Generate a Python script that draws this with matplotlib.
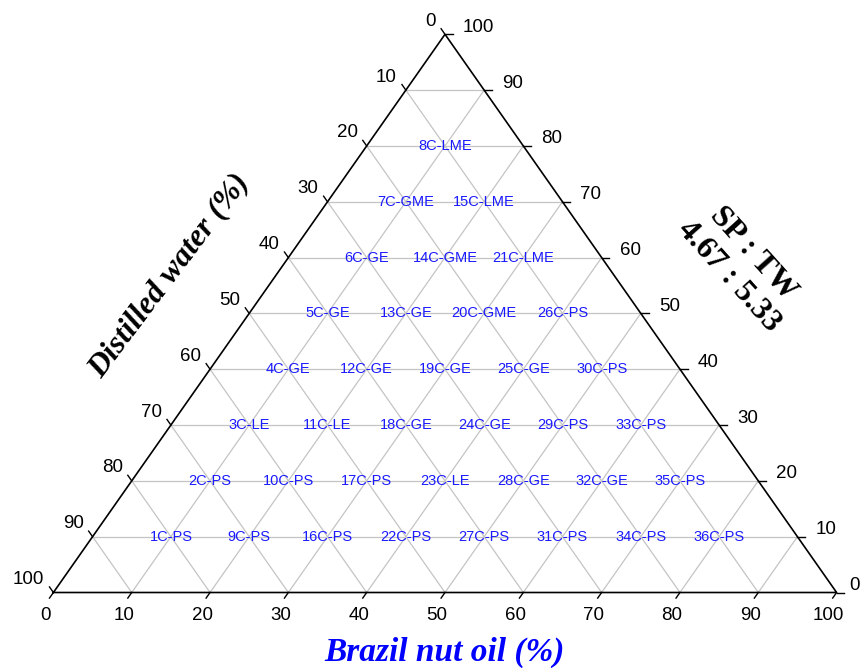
import matplotlib.pyplot as plt

W, H, DPI = 861, 668, 100

# ── data: emulsion formulations (Brazil nut oil %, SP:TW mixture %) ──
labels = ["1C-PS", "2C-PS", "3C-LE", "4C-GE", "5C-GE", "6C-GE", "7C-GME", "8C-LME",
          "9C-PS", "10C-PS", "11C-LE", "12C-GE", "13C-GE", "14C-GME", "15C-LME",
          "16C-PS", "17C-PS", "18C-GE", "19C-GE", "20C-GME", "21C-LME",
          "22C-PS", "23C-LE", "24C-GE", "25C-GE", "26C-PS",
          "27C-PS", "28C-GE", "29C-PS", "30C-PS",
          "31C-PS", "32C-GE", "33C-PS",
          "34C-PS", "35C-PS",
          "36C-PS"]
oil = [10, 10, 10, 10, 10, 10, 10, 10,
       20, 20, 20, 20, 20, 20, 20,
       30, 30, 30, 30, 30, 30,
       40, 40, 40, 40, 40,
       50, 50, 50, 50,
       60, 60, 60,
       70, 70,
       80]
sptw = [10, 20, 30, 40, 50, 60, 70, 80,
        10, 20, 30, 40, 50, 60, 70,
        10, 20, 30, 40, 50, 60,
        10, 20, 30, 40, 50,
        10, 20, 30, 40,
        10, 20, 30,
        10, 20,
        10]
ticks = [0, 10, 20, 30, 40, 50, 60, 70, 80, 90, 100]

GRID = "#c4c4c4"
NUMFONT = "Liberation Sans"
TITLEFONT = "Liberation Serif"


def xy(a, b):
    # a = oil (bottom axis), b = SP:TW (top vertex)
    return a + b / 2.0, b


fig = plt.figure(figsize=(W / DPI, H / DPI), dpi=DPI)
ax = fig.add_axes([53.4 / W, 1 - 592.5 / H, 783.2 / W, 558.2 / H])
ax.set_xlim(0, 100)
ax.set_ylim(0, 100)
ax.axis("off")

# grid lines
for v in ticks[1:-1]:
    # constant SP:TW
    ax.plot([v / 2, 100 - v / 2], [v, v], color=GRID, lw=0.9, zorder=1)
    # constant oil
    x0, y0 = xy(v, 0); x1, y1 = xy(v, 100 - v)
    ax.plot([x0, x1], [y0, y1], color=GRID, lw=0.9, zorder=1)
    # constant water
    x0, y0 = xy(100 - v, 0); x1, y1 = xy(0, 100 - v)
    ax.plot([x0, x1], [y0, y1], color=GRID, lw=0.9, zorder=1)

# triangle frame
ax.plot([0, 100, 50, 0], [0, 0, 100, 0], color="black", lw=1.2, zorder=3,
        clip_on=False, solid_joinstyle="miter")

# ticks + tick labels
for v in ticks:
    # bottom: oil
    x, y = xy(v, 0)
    ax.plot([x, x - 0.5], [y, y - 1.0], color="black", lw=1.0, clip_on=False)
    ax.annotate(str(v), (x, y), xytext=(-8, -23), textcoords="offset pixels",
                ha="center", va="center", fontsize=13.5, family=NUMFONT,
                annotation_clip=False)
    # left: distilled water
    x, y = xy(0, 100 - v)
    ax.plot([x, x - 0.5], [y, y + 1.0], color="black", lw=1.0, clip_on=False)
    ax.annotate(str(v), (x, y), xytext=(-9, 13), textcoords="offset pixels",
                ha="right", va="center", fontsize=13.5, family=NUMFONT,
                annotation_clip=False)
    # right: SP:TW (the corner "0" is pulled in a little so it stays on the canvas)
    x, y = xy(100 - v, v)
    ax.plot([x, x + 1.0], [y, y], color="black", lw=1.0, clip_on=False)
    ax.annotate(str(v), (x, y), xytext=(18 if v else 13, 7),
                textcoords="offset pixels",
                ha="left", va="center", fontsize=13.5, family=NUMFONT,
                annotation_clip=False)

# formulation labels
for lab, a, b in zip(labels, oil, sptw):
    x, y = xy(a, b)
    ax.text(x, y, lab, color="#1a1aff", fontsize=10.5, family=NUMFONT,
            ha="center", va="center", zorder=4)

# axis titles
fig.text(444 / W, 1 - 652 / H, "Brazil nut oil (%)", color="#0000ff",
         fontsize=24, family=TITLEFONT, fontweight="bold", fontstyle="italic",
         ha="center", va="center")
fig.text(169 / W, 1 - 276 / H, "Distilled water (%)", color="black",
         fontsize=23, family=TITLEFONT, fontweight="bold", fontstyle="italic",
         ha="center", va="center", rotation=53, rotation_mode="anchor")
fig.text(741 / W, 1 - 265 / H, "SP : TW\n4.67 : 5.33", color="black",
         fontsize=23, family=TITLEFONT, fontweight="bold",
         ha="center", va="center", multialignment="center",
         rotation=-48, rotation_mode="anchor")

fig.savefig("out.png", dpi=DPI)
